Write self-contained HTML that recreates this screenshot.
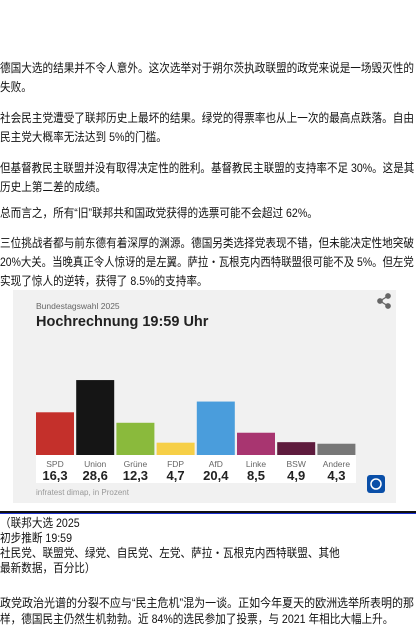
<!DOCTYPE html>
<html><head><meta charset="utf-8">
<style>
body{margin:0;width:416px;height:640px;background:#fff;overflow:hidden;font-family:"Liberation Sans","Noto Sans CJK SC",sans-serif;color:#111;position:relative}
.l{position:absolute;left:0;font-size:12px;line-height:14px;white-space:nowrap;transform-origin:0 0}
#card{position:absolute;left:13px;top:290px;width:383px;height:213px;background:#f1f1f1}
</style></head><body>
<div>
<div class="l full" id="ref" style="top:61px">德国大选的结果并不令人意外。这次选举对于朔尔茨执政联盟的政党来说是一场毁灭性的</div>
<div class="l" style="top:80px">失败。</div>
<div class="l full" style="top:111px">社会民主党遭受了联邦历史上最坏的结果。绿党的得票率也从上一次的最高点跌落。自由</div>
<div class="l" style="top:130px">民主党大概率无法达到 5%的门槛。</div>
<div class="l full" style="top:161px">但基督教民主联盟并没有取得决定性的胜利。基督教民主联盟的支持率不足 30%。这是其</div>
<div class="l" style="top:180px">历史上第二差的成绩。</div>
<div class="l" style="top:206px">总而言之，所有“旧”联邦共和国政党获得的选票可能不会超过 62%。</div>
<div class="l full" style="top:236px">三位挑战者都与前东德有着深厚的渊源。德国另类选择党表现不错，但未能决定性地突破</div>
<div class="l full" style="top:255px">20%大关。当晚真正令人惊讶的是左翼。萨拉・瓦根克内西特联盟很可能不及 5%。但左党</div>
<div class="l" style="top:274px">实现了惊人的逆转，获得了 8.5%的支持率。</div>
</div>
<div id="card">
<svg id="chart" width="383" height="213" style="position:absolute;left:0;top:0">
<text x="23" y="19" font-size="8.5" fill="#666" font-family="Liberation Sans,sans-serif">Bundestagswahl 2025</text>
<text x="23" y="36" font-size="14.5" font-weight="bold" fill="#222" font-family="Liberation Sans,sans-serif">Hochrechnung 19:59 Uhr</text>
<g fill="#666" stroke="#666" stroke-width="1.3">
<line x1="367" y1="11" x2="375" y2="6"/><line x1="367" y1="11" x2="375" y2="16"/>
<circle cx="367" cy="11" r="2.2"/><circle cx="375" cy="6" r="2.2"/><circle cx="375" cy="16" r="2.2"/>
</g>
<rect x="23" y="165" width="320" height="28" fill="#fff"/>
<g id="bars"></g>
<text x="23" y="205" font-size="8" fill="#999" font-family="Liberation Sans,sans-serif">infratest dimap, in Prozent</text>
<g>
<rect x="354" y="185" width="18" height="18" rx="3" fill="#0a4fa8"/>
<circle cx="363" cy="194" r="5" fill="none" stroke="#fff" stroke-width="1.5"/>
</g>
</svg>
</div>
<div style="position:absolute;left:0;top:511px;width:416px;height:2px;background:#111"></div>
<div style="position:absolute;left:0;top:513px;width:416px;height:1px;background:#1a2fd0"></div>
<div>
<div class="l" style="top:516px">（联邦大选 2025</div>
<div class="l" style="top:531px">初步推断 19:59</div>
<div class="l" style="top:546px">社民党、联盟党、绿党、自民党、左党、萨拉・瓦根克内西特联盟、其他</div>
<div class="l" style="top:561px">最新数据，百分比）</div>
</div>
<div>
<div class="l full" style="top:596px">政党政治光谱的分裂不应与“民主危机”混为一谈。正如今年夏天的欧洲选举所表明的那</div>
<div class="l" style="top:612px">样，德国民主仍然生机勃勃。近 84%的选民参加了投票，与 2021 年相比大幅上升。</div>
</div>
<script>
const parties=["SPD","Union","Grüne","FDP","AfD","Linke","BSW","Andere"];
const values=[16.3,28.6,12.3,4.7,20.4,8.5,4.9,4.3];
const valueLabels=["16,3","28,6","12,3","4,7","20,4","8,5","4,9","4,3"];
const colors=["#c4302b","#151515","#8aba3c","#f6cf47","#4a9ddc","#a83570","#5e1b3d","#777777"];
const NS="http://www.w3.org/2000/svg";
const g=document.getElementById('bars');
const base=165,scale=2.62,x0=23,step=40.2,bw=38;
function xs(i){return x0+i*step;}
function ys(v){return base-v*scale;}
parties.forEach((p,i)=>{
 const r=document.createElementNS(NS,'rect');
 r.setAttribute('x',xs(i));r.setAttribute('y',ys(values[i]));
 r.setAttribute('width',bw);r.setAttribute('height',base-ys(values[i]));
 r.setAttribute('fill',colors[i]);
 
 
 g.appendChild(r);
 const t=document.createElementNS(NS,'text');
 t.setAttribute('x',xs(i)+bw/2);t.setAttribute('y',177);
 t.setAttribute('text-anchor','middle');t.setAttribute('font-size','8.5');t.setAttribute('fill','#666');
 t.setAttribute('font-family','Liberation Sans,sans-serif');
 t.textContent=p;
 
 
 g.appendChild(t);
 const v=document.createElementNS(NS,'text');
 v.setAttribute('x',xs(i)+bw/2);v.setAttribute('y',190);
 v.setAttribute('text-anchor','middle');v.setAttribute('font-size','13');v.setAttribute('font-weight','bold');v.setAttribute('fill','#222');
 v.setAttribute('font-family','Liberation Sans,sans-serif');
 v.textContent=valueLabels[i];
 
 
 g.appendChild(v);
});
const w=document.getElementById('ref').scrollWidth;
const s=w>0?414/w:1;
document.querySelectorAll('.l').forEach(el=>{
 let k=s;
 if(el.classList.contains('full')){const ww=el.scrollWidth;if(ww>0)k=414/ww;}
 el.style.transform='scaleX('+k+')';
});
</script>
</body></html>
